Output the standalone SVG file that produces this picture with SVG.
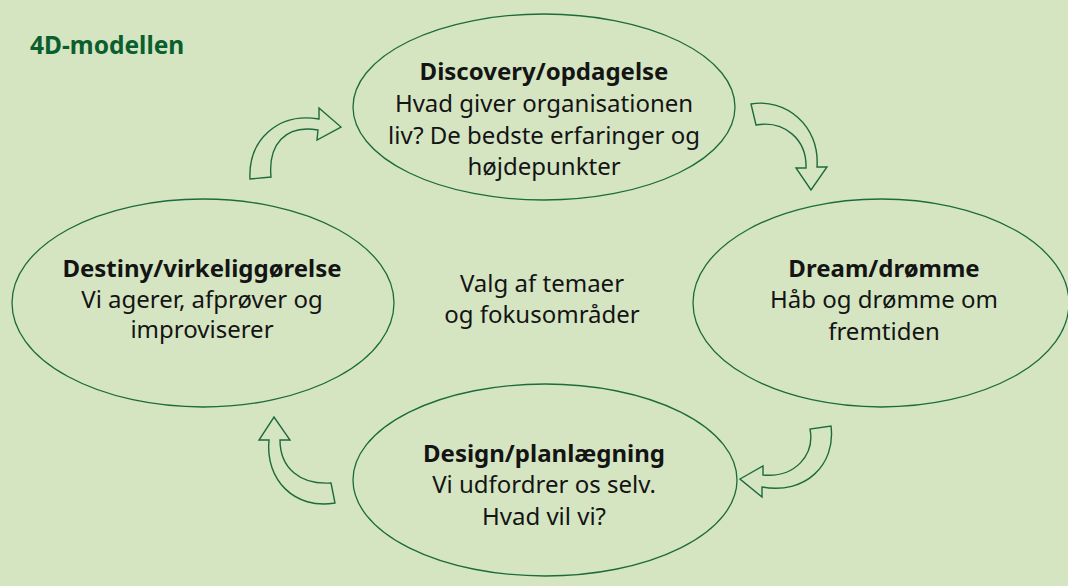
<svg xmlns="http://www.w3.org/2000/svg" width="1068" height="586" viewBox="0 0 1068 586">
<style>
.bg{fill:#d5e5c2}
.el{fill:none;stroke:#1c6b3c;stroke-width:1.3}
.ar{fill:none;stroke:#1c6b3c;stroke-width:1.4;stroke-linejoin:miter}
text{font-family:"Noto Sans","Open Sans",sans-serif;font-size:24px;fill:#141414;text-anchor:middle}
.b{font-weight:bold}
.title{font-family:"Noto Sans","Open Sans",sans-serif;font-size:24.5px;font-weight:bold;fill:#0b5e2e;text-anchor:start}
</style>
<rect class="bg" x="0" y="0" width="1068" height="586"/>
<text class="title" x="30" y="54">4D-modellen</text>
<g id="discovery">
<ellipse class="el" cx="544" cy="107" rx="191" ry="93"/>
<text class="b" x="544" y="80">Discovery/opdagelse</text>
<text x="544" y="112">Hvad giver organisationen</text>
<text x="544" y="144">liv? De bedste erfaringer og</text>
<text x="544" y="175">højdepunkter</text>
</g>
<g id="dream">
<ellipse class="el" cx="881" cy="303" rx="188" ry="104"/>
<text class="b" x="884" y="277">Dream/drømme</text>
<text x="884" y="308">Håb og drømme om</text>
<text x="884" y="340">fremtiden</text>
</g>
<g id="design">
<ellipse class="el" cx="545" cy="480" rx="192" ry="96"/>
<text class="b" x="544" y="462">Design/planlægning</text>
<text x="544" y="493">Vi udfordrer os selv.</text>
<text x="544" y="525">Hvad vil vi?</text>
</g>
<g id="destiny">
<ellipse class="el" cx="203" cy="303" rx="191" ry="104"/>
<text class="b" x="202" y="277">Destiny/virkeliggørelse</text>
<text x="202" y="308">Vi agerer, afprøver og</text>
<text x="202" y="338">improviserer</text>
</g>
<g id="center">
<text x="542" y="292">Valg af temaer</text>
<text x="542" y="323">og fokusområder</text>
</g>
<g id="connectors">
<path class="ar" d="M250,179 C248,140 278,112 319,119 L319,108 L341,127 L317,140 L318,130 C285,124 268,145 271,177 Z"/>
<path class="ar" d="M751,104 C785,98 820,125 817,167 L827,167 L811,190 L796,168 L806,168 C807,140 785,120 756,125 Z"/>
<path class="ar" d="M831,426 C836,465 805,495 762,487 L762,497 L740,479 L763,466 L763,475 C795,478 815,455 810,429 Z"/>
<path class="ar" d="M335,503 C295,510 265,480 269,440 L259,440 L274,417 L290,440 L280,440 C280,468 300,485 331,483 Z"/>
</g>
</svg>
